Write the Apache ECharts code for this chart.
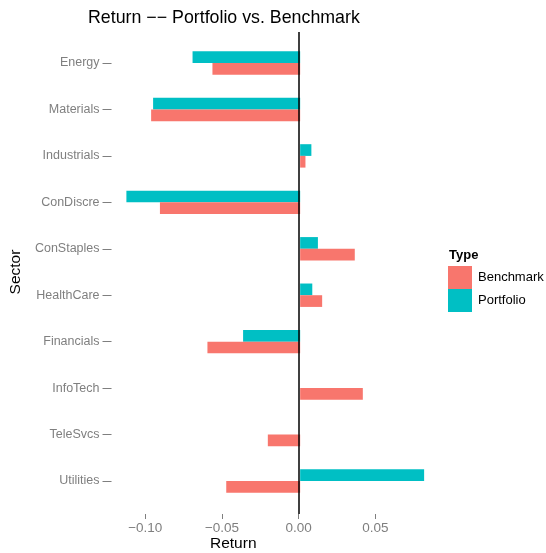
<!DOCTYPE html>
<html>
<head>
<meta charset="utf-8">
<script src="https://cdn.jsdelivr.net/npm/echarts@6/dist/echarts.min.js"></script>
<style>
html, body { margin: 0; padding: 0; background: #fff; }
#chart { width: 546px; height: 553px; }
</style>
</head>
<body>
<div id="chart"></div>
<script>
const sectors = ['Energy', 'Materials', 'Industrials', 'ConDiscre', 'ConStaples',
  'HealthCare', 'Financials', 'InfoTech', 'TeleSvcs', 'Utilities']
const portfolio = [-0.0709, -0.0969, 0.0074, -0.1145, 0.0117, 0.0080, -0.0376, 0, 0, 0.0817]
const benchmark = [-0.0578, -0.0982, 0.0035, -0.0924, 0.0360, 0.0145, -0.0611, 0.0413, -0.0213, -0.0487]
const xTicks = [-0.1, -0.05, 0, 0.05]

const font = 'Liberation Sans, Arial, Helvetica, sans-serif'
const fmt = v => v.toFixed(2).replace('-', '\u2212')

const chart = echarts.init(document.getElementById('chart'))

const option = {
  animation: false,
  textStyle: { fontFamily: font },
  title: [
    {
      text: 'Return \u2212\u2212 Portfolio vs. Benchmark',
      left: 88, top: 9, padding: 0,
      textStyle: { fontSize: 17.8, fontWeight: 'normal', color: '#000', fontFamily: font }
    },
    {
      text: 'Return',
      left: 210, top: 536, padding: 0,
      textStyle: { fontSize: 15.5, fontWeight: 'normal', color: '#000', fontFamily: font }
    },
    {
      text: 'Type',
      left: 449, top: 249, padding: 0,
      textStyle: { fontSize: 13, fontWeight: 'bold', color: '#000', fontFamily: font }
    }
  ],
  legend: {
    orient: 'vertical',
    left: 448, top: 266, padding: 0,
    itemWidth: 24, itemHeight: 23, itemGap: 0,
    icon: 'rect',
    data: ['Benchmark', 'Portfolio'],
    textStyle: { fontSize: 13, color: '#000', fontFamily: font, padding: [0, 0, 0, 1] }
  },
  // grid 0 holds the bars, grid 1 is the full panel (zero line + x ticks)
  grid: [
    { left: 108, right: 107, top: 39.8, bottom: 48.8 },
    { left: 108, right: 107, top: 32, bottom: 39 }
  ],
  xAxis: [
    { gridIndex: 0, type: 'value', min: -0.1243, max: 0.0915, show: false },
    {
      gridIndex: 1, type: 'value', min: -0.1243, max: 0.0915,
      axisLine: { show: false },
      splitLine: { show: false },
      axisTick: { show: true, length: 5, customValues: xTicks, lineStyle: { color: '#7f7f7f' } },
      axisLabel: { customValues: xTicks, formatter: fmt, margin: 7, fontSize: 13.5, color: '#7f7f7f', fontFamily: font }
    }
  ],
  yAxis: [
    {
      gridIndex: 0, type: 'category', data: sectors, inverse: true, position: 'left',
      name: 'Sector', nameLocation: 'middle', nameRotate: 90, nameGap: 82,
      nameTextStyle: { fontSize: 15.5, color: '#000', fontFamily: font },
      axisLine: { show: false, onZero: false },
      axisTick: { show: true, inside: false, alignWithLabel: true, length: 9, lineStyle: { color: '#7f7f7f' } },
      axisLabel: { margin: 12, fontSize: 12.5, color: '#7f7f7f', fontFamily: font },
      splitLine: { show: false }
    },
    { gridIndex: 1, type: 'value', min: 0, max: 1, show: false }
  ],
  series: [
    {
      name: 'Portfolio', type: 'bar', xAxisIndex: 0, yAxisIndex: 0,
      data: portfolio, barWidth: 11.7, barGap: '0%',
      itemStyle: { color: '#00BFC4' }
    },
    {
      name: 'Benchmark', type: 'bar', xAxisIndex: 0, yAxisIndex: 0,
      data: benchmark, barWidth: 11.7, barGap: '0%',
      itemStyle: { color: '#F8766D' }
    },
    {
      // dummy series just to carry the vertical zero line
      type: 'scatter', xAxisIndex: 1, yAxisIndex: 1,
      data: [[0, 0.5]], symbolSize: 0, silent: true,
      markLine: {
        silent: true, symbol: ['none', 'none'],
        label: { show: false },
        lineStyle: { color: '#000', width: 1.5, type: 'solid' },
        data: [{ xAxis: 0 }]
      }
    }
  ]
}

chart.setOption(option)
</script>
</body>
</html>
